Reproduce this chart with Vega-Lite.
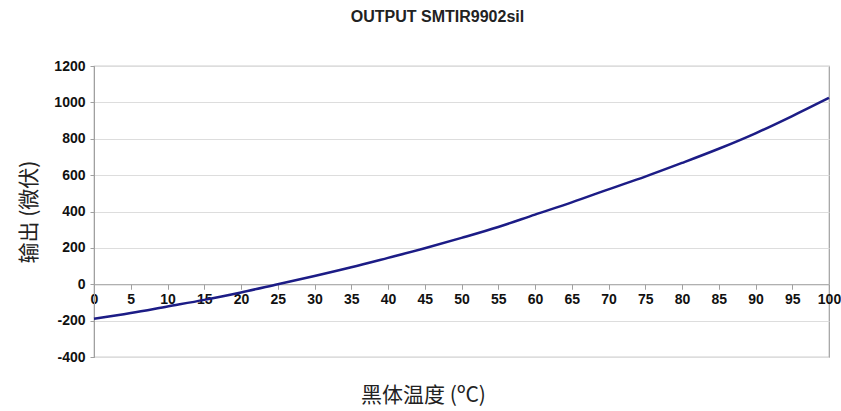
{
  "$schema": "https://vega.github.io/schema/vega-lite/v6.json",
  "autosize": "none",
  "width": 735,
  "height": 291,
  "padding": {"left": 94, "top": 66, "right": 12, "bottom": 54},
  "background": "white",
  "title": {
    "text": "OUTPUT SMTIR9902sil",
    "font": "Liberation Sans",
    "fontSize": 16,
    "fontWeight": "bold",
    "color": "#222",
    "anchor": "middle",
    "dx": -24,
    "offset": 34
  },
  "config": {
    "view": {"stroke": "#a0a0a0", "strokeWidth": 1.2},
    "axis": {
      "labelFont": "Liberation Sans",
      "labelFontWeight": "bold",
      "labelFontSize": 14,
      "labelColor": "#111",
      "titleFont": "Noto Sans CJK SC",
      "titleFontWeight": "normal",
      "titleFontSize": 21,
      "titleColor": "#222",
      "domainColor": "#a0a0a0",
      "tickColor": "#a0a0a0",
      "gridColor": "#dddddd"
    }
  },
  "data": {
    "values": [
      {"t": 0, "v": -190},
      {"t": 5, "v": -158},
      {"t": 10, "v": -122},
      {"t": 15, "v": -86},
      {"t": 20, "v": -45},
      {"t": 25, "v": 0},
      {"t": 30, "v": 45},
      {"t": 35, "v": 93},
      {"t": 40, "v": 145},
      {"t": 45, "v": 198},
      {"t": 50, "v": 255},
      {"t": 55, "v": 315},
      {"t": 60, "v": 383},
      {"t": 65, "v": 450},
      {"t": 70, "v": 522},
      {"t": 75, "v": 592},
      {"t": 80, "v": 667},
      {"t": 85, "v": 745},
      {"t": 90, "v": 830},
      {"t": 95, "v": 925},
      {"t": 100, "v": 1025}
    ]
  },
  "mark": {"type": "line", "color": "#1c1c86", "strokeWidth": 2.5, "interpolate": "monotone"},
  "encoding": {
    "x": {
      "field": "t",
      "type": "quantitative",
      "scale": {"domain": [0, 100], "nice": false},
      "axis": {
        "title": "黑体温度 (ºC)",
        "values": [0,5,10,15,20,25,30,35,40,45,50,55,60,65,70,75,80,85,90,95,100],
        "grid": false,
        "offset": -72.75,
        "tickSize": 5,
        "labelPadding": 3,
        "labelFlush": false,
        "titleX": 329,
        "titleY": 111,
        "titleBaseline": "middle",
        "titleAnchor": "middle"
      }
    },
    "y": {
      "field": "v",
      "type": "quantitative",
      "scale": {"domain": [-400, 1200], "nice": false, "zero": false},
      "axis": {
        "title": "输出 (微伏)",
        "values": [-400,-200,0,200,400,600,800,1000,1200],
        "labelExpr": "'' + datum.value",
        "grid": true,
        "tickSize": 4,
        "labelPadding": 5,
        "titlePadding": 14
      }
    }
  }
}
